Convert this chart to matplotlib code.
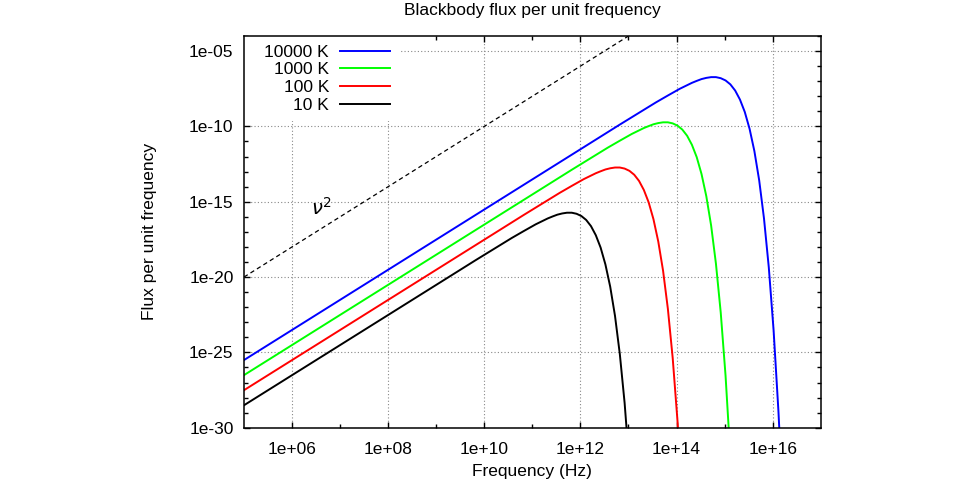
import matplotlib
matplotlib.use("Agg")
import matplotlib.pyplot as plt
import numpy as np
from matplotlib.ticker import FixedLocator, FixedFormatter, NullFormatter
from matplotlib.patches import Rectangle

plt.rcParams['font.family'] = ['Liberation Sans', 'DejaVu Sans']

# ---- data (log10 of frequency [Hz] and log10 of flux) ----
logf_10K = [5.0, 9.32, 9.82, 10.32, 10.57, 10.82, 11.07, 11.32, 11.42, 11.52, 11.62, 11.72,
            11.82, 11.92, 12.02, 12.12, 12.22, 12.32, 12.42, 12.52, 12.62, 12.72, 12.82,
            12.92, 13.02]
logF_10K = [-28.51, -19.88, -18.88, -17.90, -17.41, -16.95, -16.50, -16.11, -15.98, -15.86,
            -15.78, -15.73, -15.73, -15.80, -15.95, -16.21, -16.62, -17.22, -18.04, -19.16,
            -20.64, -22.58, -25.11, -28.36, -32.54]

logf_100K = [5.0, 10.32, 10.82, 11.32, 11.57, 11.82, 12.07, 12.32, 12.42, 12.52, 12.62, 12.72,
             12.82, 12.92, 13.02, 13.12, 13.22, 13.32, 13.42, 13.52, 13.62, 13.72, 13.82,
             13.92, 14.02, 14.12]
logF_100K = [-27.51, -16.88, -15.88, -14.90, -14.41, -13.95, -13.50, -13.11, -12.98, -12.86,
             -12.78, -12.73, -12.73, -12.80, -12.95, -13.21, -13.62, -14.22, -15.04, -16.16,
             -17.64, -19.58, -22.11, -25.36, -29.54, -34.88]

logf_1000K = [5.0, 11.32, 11.82, 12.32, 12.57, 12.82, 13.07, 13.32, 13.42, 13.52, 13.62, 13.72,
              13.82, 13.92, 14.02, 14.12, 14.22, 14.32, 14.42, 14.52, 14.62, 14.72, 14.82,
              14.92, 15.02, 15.12]
logF_1000K = [-26.51, -13.88, -12.88, -11.90, -11.41, -10.95, -10.50, -10.11, -9.98, -9.86,
              -9.78, -9.73, -9.73, -9.80, -9.95, -10.21, -10.62, -11.22, -12.04, -13.16,
              -14.64, -16.58, -19.11, -22.36, -26.54, -31.88]

logf_10000K = [5.0, 12.32, 12.82, 13.32, 13.57, 13.82, 14.07, 14.32, 14.42, 14.52, 14.62, 14.72,
               14.82, 14.92, 15.02, 15.12, 15.22, 15.32, 15.42, 15.52, 15.62, 15.72, 15.82,
               15.92, 16.02, 16.12, 16.17]
logF_10000K = [-25.51, -10.88, -9.88, -8.90, -8.41, -7.95, -7.50, -7.11, -6.98, -6.86,
               -6.78, -6.73, -6.73, -6.80, -6.95, -7.21, -7.62, -8.22, -9.04, -10.16,
               -11.64, -13.58, -16.11, -19.36, -23.54, -28.88, -32.07]

nu2_freq = [1e5, 1e13]
nu2_flux = [1e-20, 1e-4]

series_labels = ["10000 K", "1000 K", "100 K", "10 K"]
series_colors = ["#0000ff", "#00ff00", "#ff0000", "#000000"]

x_major = [1e6, 1e8, 1e10, 1e12, 1e14, 1e16]
x_major_labels = ["1e+06", "1e+08", "1e+10", "1e+12", "1e+14", "1e+16"]
x_minor = [1e7, 1e9, 1e11, 1e13, 1e15]
y_major = [1e-30, 1e-25, 1e-20, 1e-15, 1e-10, 1e-5]
y_major_labels = ["1e-30", "1e-25", "1e-20", "1e-15", "1e-10", "1e-05"]
y_minor = [10.0**e for e in range(-29, -3) if e % 5 != 0]

title = "Blackbody flux per unit frequency"
xlabel = "Frequency (Hz)"
ylabel = "Flux per unit frequency"

# ---- figure ----
fig = plt.figure(figsize=(9.6, 4.83), dpi=100)
ax = fig.add_axes([244/960, 1-427.7/483, (820.7-244)/960, (427.7-36)/483])

fs = 12.5
curves = [(logf_10000K, logF_10000K), (logf_1000K, logF_1000K),
          (logf_100K, logF_100K), (logf_10K, logF_10K)]
for (lf, lF), lab, col in zip(curves, series_labels, series_colors):
    ax.plot(10.0**np.array(lf), 10.0**np.array(lF), color=col, lw=1.4, label=lab, zorder=3)

ax.plot(nu2_freq, nu2_flux, color="black", lw=0.9, linestyle=(0, (3.5, 2.6)), zorder=3)
ax.text(10**6.62, 10**-15.4, r"$\nu^2$", fontsize=14, ha="center", va="center")

ax.set_xscale("log")
ax.set_yscale("log")
ax.set_xlim(1e5, 1e17)
ax.set_ylim(1e-30, 1e-4)

ax.xaxis.set_major_locator(FixedLocator(x_major))
ax.xaxis.set_major_formatter(FixedFormatter(x_major_labels))
ax.xaxis.set_minor_locator(FixedLocator(x_minor))
ax.xaxis.set_minor_formatter(NullFormatter())
ax.yaxis.set_major_locator(FixedLocator(y_major))
ax.yaxis.set_major_formatter(FixedFormatter(y_major_labels))
ax.yaxis.set_minor_locator(FixedLocator(y_minor))
ax.yaxis.set_minor_formatter(NullFormatter())

ax.tick_params(which="both", direction="in", top=True, right=True, labelsize=fs, width=1.0)
ax.tick_params(which="major", length=4.5)
ax.tick_params(which="minor", length=2.6)
ax.tick_params(axis="x", which="major", pad=10)
ax.tick_params(axis="y", which="major", pad=7.5)

for s in ax.spines.values():
    s.set_linewidth(1.1)
    s.set_zorder(4)
ax.xaxis.set_zorder(4)
ax.yaxis.set_zorder(4)

ax.grid(True, which="major", color="#888888", linestyle=(0, (1, 2)), lw=0.8)
ax.set_axisbelow(True)

ax.set_title(title, fontsize=fs, pad=15)
ax.set_xlabel(xlabel, fontsize=fs)
ax.set_ylabel(ylabel, fontsize=fs)
ax.xaxis.set_label_coords(0.5, -0.093)
ax.yaxis.set_label_coords(-0.151, 0.5)

# opaque key area (covers the grid behind the legend, as in the original)
ax.add_patch(Rectangle((0.0, 0.80), 0.27, 0.20, transform=ax.transAxes,
                       facecolor="white", edgecolor="none", zorder=2.3))

leg = ax.legend(loc="upper right", bbox_to_anchor=(0.268, 1.0), markerfirst=False,
                fontsize=fs, frameon=True, fancybox=False, framealpha=1.0,
                facecolor="white", edgecolor="none", handlelength=2.85,
                handletextpad=0.65, labelspacing=0.14, borderpad=0.5, borderaxespad=0.0)
leg.set_zorder(2.4)

fig.savefig("out.png", dpi=100, facecolor="white")
